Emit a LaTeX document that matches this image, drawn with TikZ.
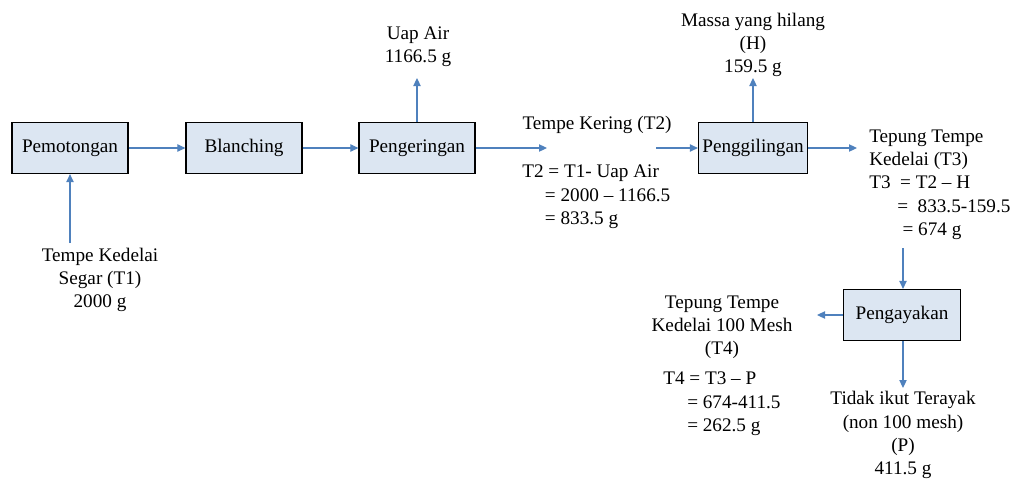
\documentclass[tikz,border=0pt]{standalone}
\usepackage{fontspec}
\setmainfont{Liberation Serif}
\usepackage{xcolor}
\usetikzlibrary{arrows.meta, positioning}

\definecolor{flowblue}{RGB}{79,129,189}
\definecolor{boxfill}{RGB}{220,230,242}

\begin{document}
\begin{tikzpicture}[x=0.75pt, y=-0.75pt,
    font=\fontsize{14.4pt}{17.3pt}\selectfont,
    box/.style={draw, line width=0.9pt, fill=boxfill, minimum height=51*0.75pt, inner sep=0pt},
    lbl/.style={inner sep=0pt, align=center},
    calc/.style={inner sep=0pt, align=left, anchor=north west},
    arr/.style={-{Triangle[length=6pt, width=5.5pt]}, flowblue, line width=0.8pt},
]
\useasboundingbox (0,0) rectangle (1014,479);

% process steps
\node[box, minimum width=116*0.75pt] (potong) at (70,148) {Pemotongan};
\node[box, minimum width=116*0.75pt] (blanch) at (244,148) {Blanching};
\node[box, minimum width=116*0.75pt] (kering) at (417,148) {Pengeringan};
\node[box, minimum width=109*0.75pt] (giling) at (753,148) {Penggilingan};
\node[box, minimum width=117*0.75pt] (ayak) at (902,315) {Pengayakan};

% inputs and outputs
\node[lbl] (segar) at (100,280) {Tempe Kedelai\\Segar (T1)\\2000 g};
\node[lbl] (uap) at (418,47) {Uap Air\\1166.5 g};
\node[lbl] (hilang) at (753,45) {Massa yang hilang\\(H)\\159.5 g};
\node[lbl] (t2) at (597,125) {Tempe Kering (T2)};
\node[calc] (t2calc) at (522,165) {T2 = T1- Uap Air\\\hspace*{17pt}= 2000 -- 1166.5\\\hspace*{17pt}= 833.5 g};
\node[calc] (t3) at (869,130) {Tepung Tempe\\Kedelai (T3)\\T3 \ = T2 -- H\\\hspace*{21pt}= \ 833.5-159.5\\\hspace*{25pt}= 674 g};
\node[lbl] (t4) at (722,327) {Tepung Tempe\\Kedelai 100 Mesh\\(T4)};
\node[calc] (t4calc) at (663,372) {T4 = T3 -- P\\\hspace*{18pt}= 674-411.5\\\hspace*{18pt}= 262.5 g};
\node[lbl] (sisa) at (903,435) {Tidak ikut Terayak\\(non 100 mesh)\\(P)\\411.5 g};

% free ends
\coordinate (segarout) at (70,243);
\coordinate (uapin) at (417,78);
\coordinate (hilangin) at (753,78);
\coordinate (t2in) at (547,148);
\coordinate (t2out) at (656,148);
\coordinate (t3in) at (857,148);
\coordinate (t3out) at (903,248);
\coordinate (t4in) at (817,315);
\coordinate (sisain) at (903,388);

% flow
\draw[arr] (segarout) -- (potong);
\draw[arr] (potong) -- (blanch);
\draw[arr] (blanch) -- (kering);
\draw[arr] (kering.north) -- (uapin);
\draw[arr] (kering) -- (t2in);
\draw[arr] (t2out) -- (giling);
\draw[arr] (giling.north) -- (hilangin);
\draw[arr] (giling) -- (t3in);
\draw[arr] (t3out) -- (ayak.north -| t3out);
\draw[arr] (ayak) -- (t4in);
\draw[arr] (ayak.south -| sisain) -- (sisain);

\end{tikzpicture}
\end{document}
